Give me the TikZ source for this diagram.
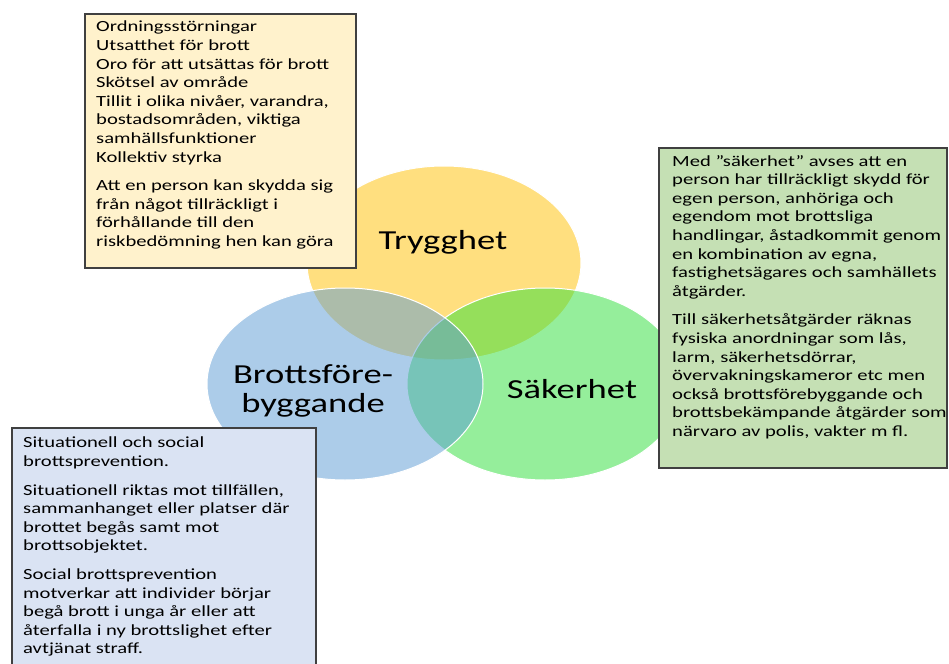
\documentclass[tikz,border=0pt]{standalone}
\usepackage{fontspec}
\setmainfont{Carlito}[FakeStretch=1.33]

\definecolor{vennYellow}{HTML}{FFC000}
\definecolor{vennGreen}{HTML}{2DDF39}
\definecolor{vennBlue}{HTML}{5B9BD5}
\definecolor{noteYellow}{HTML}{FFF2CC}
\definecolor{noteGreen}{HTML}{C5E0B4}
\definecolor{noteBlue}{HTML}{DAE3F3}
\definecolor{noteLine}{HTML}{404040}

\tikzset{
    venn/.style={fill opacity=0.5, draw=white, line width=1bp},
    notebox/.style={draw=noteLine, line width=1.3bp},
    notetext/.style={anchor=north west, inner sep=0pt, align=left,
        font=\fontsize{15.5bp}{18.6bp}\selectfont},
    vennlabel/.style={align=center, inner sep=0pt,
        font=\fontsize{27.5bp}{29bp}\selectfont}
}

\begin{document}
\begin{tikzpicture}[x=1bp, y=-1bp]
        \clip (0,0) rectangle (949,664);
        \fill[white] (0,0) rectangle (949,664);

        \draw[venn, fill=vennYellow] (444,263) ellipse [x radius=137, y radius=97];
        \draw[venn, fill=vennGreen] (545,384) ellipse [x radius=138, y radius=96];
        \draw[venn, fill=vennBlue] (345,384) ellipse [x radius=138, y radius=96];

        \draw[notebox, fill=noteYellow] (85,14) rectangle (356,268);
        \draw[notebox, fill=noteGreen] (659,148) rectangle (947,468);
        \draw[notebox, fill=noteBlue] (12,428) rectangle (316,680);

        \node[notetext] (trygg) at (96,21) {Ordningsstörningar\\
            Utsatthet för brott\\
            Oro för att utsättas för brott\\
            Skötsel av område\\
            Tillit i olika nivåer, varandra,\\
            bostadsområden, viktiga\\
            samhällsfunktioner\\
            Kollektiv styrka\\[10bp]
            Att en person kan skydda sig\\
            från något tillräckligt i\\
            förhållande till den\\
            riskbedömning hen kan göra};

        \node[notetext] (saker) at (672,155) {Med ”säkerhet” avses att en\\
            person har tillräckligt skydd för\\
            egen person, anhöriga och\\
            egendom mot brottsliga\\
            handlingar, åstadkommit genom\\
            en kombination av egna,\\
            fastighetsägares och samhällets\\
            åtgärder.\\[10bp]
            Till säkerhetsåtgärder räknas\\
            fysiska anordningar som lås,\\
            larm, säkerhetsdörrar,\\
            övervakningskameror etc men\\
            också brottsförebyggande och\\
            brottsbekämpande åtgärder som\\
            närvaro av polis, vakter m fl.};

        \node[notetext] (brott) at (23,437) {Situationell och social\\
            brottsprevention.\\[10bp]
            Situationell riktas mot tillfällen,\\
            sammanhanget eller platser där\\
            brottet begås samt mot\\
            brottsobjektet.\\[10bp]
            Social brottsprevention\\
            motverkar att individer börjar\\
            begå brott i unga år eller att\\
            återfalla i ny brottslighet efter\\
            avtjänat straff.};

        \node[vennlabel] (T) at (443,242) {Trygghet};
        \node[vennlabel] (S) at (572,389) {Säkerhet};
        \node[vennlabel] (B) at (313,391) {Brottsföre-\\byggande};
\end{tikzpicture}
\end{document}
